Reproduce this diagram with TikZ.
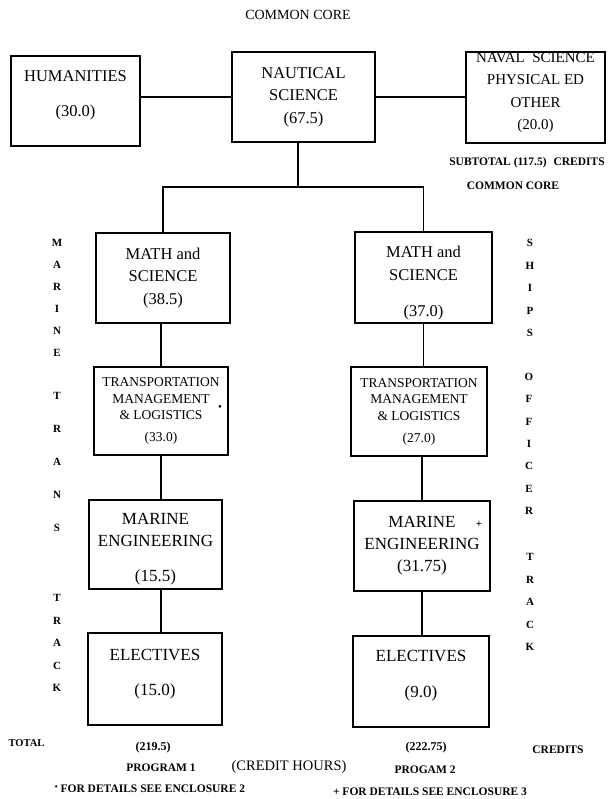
\documentclass[tikz,border=0pt]{standalone}
\usepackage{fontspec}
\setmainfont{Liberation Serif}
\usetikzlibrary{positioning}
\newcommand{\dropline}[1]{\rule[-#1]{0pt}{#1}}
\newcommand{\upline}[1]{\rule{0pt}{#1}}

\begin{document}
\begin{tikzpicture}[x=1pt, y=-1pt,
  box/.style={draw, line width=1.2pt, align=center, inner sep=0pt,
    font=\fontsize{16.5}{22.5}\selectfont},
  bigbox/.style={box, font=\fontsize{17}{22}\selectfont},
  navbox/.style={box, font=\fontsize{15}{22.5}\selectfont},
  tmlbox/.style={box, font=\fontsize{13.5}{16.5}\selectfont},
  trk/.style={inner sep=0pt, font=\fontsize{11}{11}\selectfont\bfseries},
  note/.style={inner sep=0pt, font=\fontsize{11.5}{12}\selectfont\bfseries},
  link/.style={line width=1.2pt}]
\useasboundingbox (0,0) rectangle (613,799);

\node[inner sep=0pt, font=\fontsize{14}{14}\selectfont] (title) at (298,15) {COMMON CORE};

\node[box, minimum width=129pt, minimum height=90pt] (hum) at (75.5,101)
  {HUMANITIES\\[12pt](30.0)\dropline{15pt}};
\node[box, minimum width=143pt, minimum height=90pt] (naut) at (303.5,97)
  {NAUTICAL\\SCIENCE\\(67.5)};
\node[navbox, minimum width=139pt, minimum height=91pt] (naval) at (535.5,97.5)
  {NAVAL\hspace{0.5em}SCIENCE\\PHYSICAL ED\\OTHER\\(20.0)\dropline{13pt}};
\node[note] (subtot) at (527,163) {SUBTOTAL (117.5)\hspace{0.6em}CREDITS};
\node[note] (core) at (513,186) {COMMON CORE};

\coordinate (fork) at (298,187);
\node[box, minimum width=134pt, minimum height=90pt] (mathL) at (163,278)
  {MATH and\\SCIENCE\\(38.5)};
\node[box, minimum width=137pt, minimum height=91pt] (mathR) at (423.5,277.5)
  {\upline{23pt}MATH and\\SCIENCE\\[13.5pt](37.0)};
\node[tmlbox, minimum width=134pt, minimum height=88pt] (tmL) at (161,411)
  {TRANSPORTATION\\MANAGEMENT\\\&~LOGISTICS\\[5.5pt](33.0)};
\node[tmlbox, minimum width=136pt, minimum height=89pt] (tmR) at (419,411.5)
  {TRANSPORTATION\\MANAGEMENT\\\&~LOGISTICS\\[5.5pt](27.0)};
\node[bigbox, minimum width=133pt, minimum height=89pt] (engL) at (155.5,544.5)
  {\upline{21pt}MARINE\\ENGINEERING\\[13pt](15.5)};
\node[bigbox, minimum width=136pt, minimum height=90pt] (engR) at (422,546)
  {MARINE\\ENGINEERING\\(31.75)};
\node[bigbox, minimum width=134pt, minimum height=92pt] (elecL) at (155,679)
  {ELECTIVES\\[13pt](15.0)\dropline{14pt}};
\node[bigbox, minimum width=136pt, minimum height=91pt] (elecR) at (421,681.5)
  {ELECTIVES\\[14pt](9.0)\dropline{16pt}};

\node[inner sep=0pt, font=\fontsize{11}{11}\selectfont] (dotL) at (220,408) {\textbullet};
\node[inner sep=0pt, font=\fontsize{11}{11}\selectfont\bfseries] (plusR) at (479,524) {+};

\draw[link] (naut.west -| hum.east) -- (naut.west);
\draw[link] (naut.east) -- (naut.east -| naval.west);
\draw[link] (naut.south -| fork) -- (fork);
\draw[link] (mathL.north) |- (fork) -| (mathR.north);
\draw[link] (tmL.north) -- (tmL.north |- mathL.south);
\draw[link] (tmL.south) -- (tmL.south |- engL.north);
\draw[link] (engL.south -| tmL.south) -- (elecL.north -| tmL.south);
\draw[link] (mathR.south) -- (mathR.south |- tmR.north);
\draw[link] (engR.north) -- (engR.north |- tmR.south);
\draw[link] (engR.south) -- (engR.south |- elecR.north);

\foreach \ch [count=\i from 0] in {M,A,R,I,N,E}
  \node[trk] (mar\i) at (57,243+22*\i) {\ch};
\foreach \ch [count=\i from 0] in {T,R,A,N,S}
  \node[trk] (trn\i) at (57,396+33*\i) {\ch};
\foreach \ch [count=\i from 0] in {T,R,A,C,K}
  \node[trk] (tkL\i) at (57,598+22.5*\i) {\ch};
\foreach \ch [count=\i from 0] in {S,H,I,P,S}
  \node[trk] (shp\i) at (530,243+22.5*\i) {\ch};
\foreach \ch [count=\i from 0] in {O,F,F,I,C,E,R}
  \node[trk] (off\i) at (529,377+22.33*\i) {\ch};
\foreach \ch [count=\i from 0] in {T,R,A,C,K}
  \node[trk] (tkR\i) at (530,557+22.5*\i) {\ch};

\node[note, font=\fontsize{10.5}{11}\selectfont\bfseries] (total) at (26.5,743) {TOTAL};
\node[note, font=\fontsize{12}{12}\selectfont\bfseries] (sum1) at (153,748) {(219.5)};
\node[note] (prog1) at (161,768) {PROGRAM 1};
\node[inner sep=0pt, font=\fontsize{14.5}{15}\selectfont] (hours) at (289,767) {(CREDIT HOURS)};
\node[note, font=\fontsize{12}{12}\selectfont\bfseries] (sum2) at (426,748) {(222.75)};
\node[note] (prog2) at (425,770) {PROGAM 2};
\node[note] (cred) at (558,750) {CREDITS};
\node[note] (note1) at (150,789)
  {\raisebox{3pt}{\fontsize{8}{8}\selectfont\textbullet} FOR DETAILS SEE ENCLOSURE 2};
\node[note] (note2) at (430,792) {+ FOR DETAILS SEE ENCLOSURE 3};
\end{tikzpicture}
\end{document}
